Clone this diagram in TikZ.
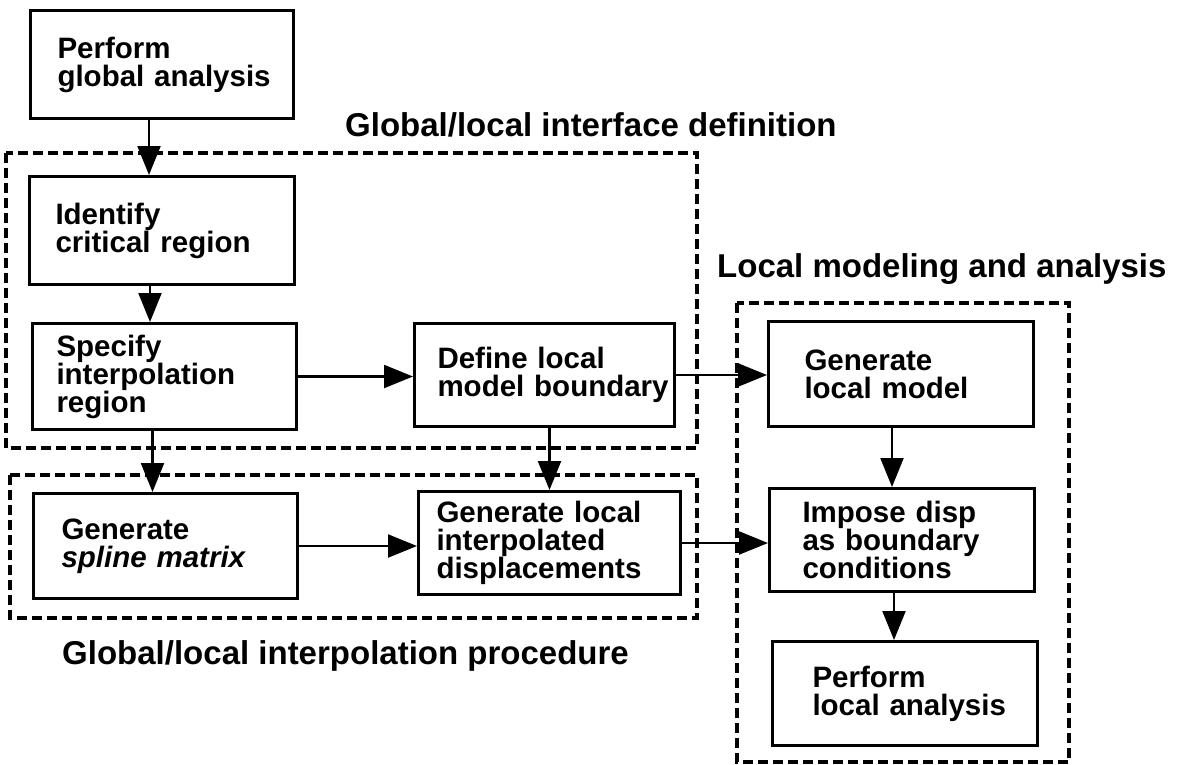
\documentclass[tikz,border=0pt]{standalone}
\usepackage{fontspec}
\setmainfont{Liberation Sans}
\usepackage{tikz}
\usetikzlibrary{arrows.meta}
\hyphenpenalty=10000
\exhyphenpenalty=10000

\begin{document}
\begin{tikzpicture}[x=1pt,y=-1pt,
    procbox/.style={draw,line width=3pt,anchor=north west,align=left,
      inner ysep=0pt,font=\bfseries\fontsize{29.5}{28}\selectfont},
    grpbox/.style={line width=3.4pt,dash pattern=on 10pt off 5pt},
    grplabel/.style={anchor=base west,inner sep=0pt,
      font=\bfseries\fontsize{33}{36}\selectfont},
    flow/.style={line width=2.2pt,-{Triangle[length=29pt,width=23pt]}}]
  \useasboundingbox (0,0) rectangle (1178,764);

  % dashed groups
  \draw[grpbox] (6,153) rectangle (697,448);
  \draw[grpbox] (10,475) rectangle (697,618);
  \draw[grpbox] (737,303) rectangle (1069,762);

  \node[grplabel] (hdefn) at (345,136) {Global/local interface definition};
  \node[grplabel] (hlocal) at (717,277) {Local modeling and analysis};
  \node[grplabel] (hinterp) at (62,664) {Global/local interpolation procedure};

  % steps
  \node[procbox,text width=209pt,inner xsep=27pt,minimum height=108pt] (perf) at (29,9)
    {Perform\\global~analysis};
  \node[procbox,text width=213pt,inner xsep=26pt,minimum height=108pt] (ident) at (28,175)
    {Identify\\critical~region};
  \node[procbox,text width=216pt,inner xsep=24pt,minimum height=106pt] (spec) at (31,322)
    {Specify\\interpolation\\region};
  \node[procbox,text width=214pt,inner xsep=23pt,minimum height=103pt] (defn) at (413,322)
    {Define~local\\model~boundary};
  \node[procbox,text width=208pt,inner xsep=28pt,minimum height=105pt] (spl) at (32,492)
    {Generate\\{\itshape spline~matrix}};
  \node[procbox,text width=226pt,inner xsep=18pt,minimum height=103pt] (interp) at (417,490)
    {Generate~local\\interpolated\\displacements};
  \node[procbox,text width=193pt,inner xsep=36pt,minimum height=105pt] (genm) at (767,320)
    {Generate\\local~model};
  \node[procbox,text width=199pt,inner xsep=33pt,minimum height=103pt] (impose) at (768,487)
    {Impose~disp\\as~boundary\\conditions};
  \node[procbox,text width=185pt,inner xsep=40pt,minimum height=104pt] (perfl) at (771,640)
    {Perform\\local~analysis};

  % connectors
  \draw[flow] ([xshift=-13pt]perf.south) -- ([xshift=-13pt]perf.south |- ident.north);
  \draw[flow] ([xshift=-12pt]ident.south) -- ([xshift=-12pt]ident.south |- spec.north);
  \draw[flow] ([xshift=-12pt]spec.south) -- ([xshift=-12pt]spec.south |- spl.north);
  \draw[flow] ([xshift=5pt]defn.south) -- ([xshift=5pt]defn.south |- interp.north);
  \draw[flow] (spec.east) -- (spec.east -| defn.west);
  \draw[flow] (defn.east) -- (defn.east -| genm.west);
  \draw[flow] (spl.east) -- (spl.east -| interp.west);
  \draw[flow] (interp.east) -- (interp.east -| impose.west);
  \draw[flow] ([xshift=-9pt]genm.south) -- ([xshift=-9pt]genm.south |- impose.north);
  \draw[flow] ([xshift=-8pt]impose.south) -- ([xshift=-8pt]impose.south |- perfl.north);
\end{tikzpicture}
\end{document}
